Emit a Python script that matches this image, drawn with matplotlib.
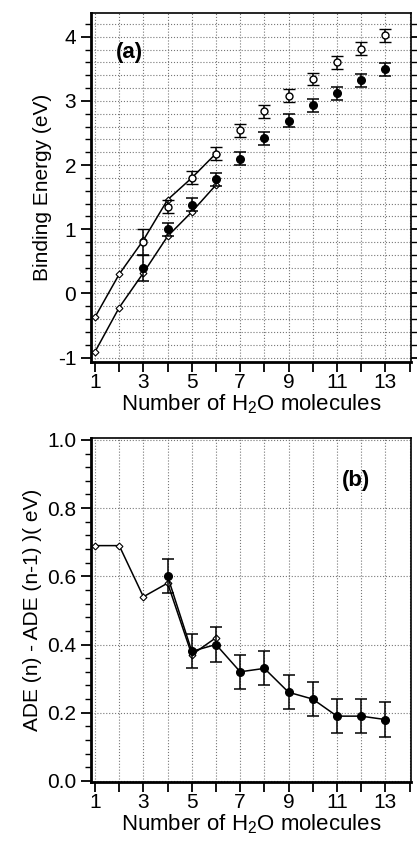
import matplotlib
matplotlib.use("Agg")
import matplotlib.pyplot as plt
import numpy as np

plt.rcParams['font.family'] = ['Liberation Sans', 'DejaVu Sans']
plt.rcParams['mathtext.fontset'] = 'custom'
plt.rcParams['mathtext.rm'] = 'Liberation Sans'
plt.rcParams['axes.unicode_minus'] = False

# panel (a) data
n_theory = [1, 2, 3, 4, 5, 6]
be_upper = [-0.37, 0.30, 0.83, 1.46, 1.80, 2.18]
be_lower = [-0.91, -0.22, 0.32, 0.89, 1.27, 1.69]

n_exp = [3, 4, 5, 6, 7, 8, 9, 10, 11, 12, 13]
vde_open = [0.80, 1.35, 1.80, 2.18, 2.54, 2.84, 3.08, 3.34, 3.60, 3.81, 4.02]
vde_open_err = [0.20, 0.10, 0.10, 0.10, 0.10, 0.10, 0.10, 0.10, 0.10, 0.10, 0.10]
ade_fill = [0.40, 1.00, 1.38, 1.78, 2.10, 2.42, 2.69, 2.93, 3.12, 3.32, 3.49]
ade_fill_err = [0.20, 0.10, 0.10, 0.10, 0.10, 0.10, 0.10, 0.10, 0.10, 0.10, 0.10]

# panel (b) data
n_diff_theory = [1, 2, 3, 4, 5, 6]
diff_theory = [0.69, 0.69, 0.54, 0.58, 0.37, 0.42]
n_diff_exp = [4, 5, 6, 7, 8, 9, 10, 11, 12, 13]
diff_exp = [0.60, 0.38, 0.40, 0.32, 0.33, 0.26, 0.24, 0.19, 0.19, 0.18]
diff_exp_err = [0.05, 0.05, 0.05, 0.05, 0.05, 0.05, 0.05, 0.05, 0.05, 0.05]

xticks = [1, 3, 5, 7, 9, 11, 13]

fig = plt.figure(figsize=(4.17, 8.42), dpi=100)
ax1 = fig.add_axes([0.218, 0.570, 0.767, 0.4146])
ax2 = fig.add_axes([0.218, 0.0713, 0.767, 0.4087])


def style_axes(ax):
    ax.set_xlim(0.83, 14.05)
    ax.set_xticks(range(1, 15))
    ax.set_xticklabels([str(i) if i in xticks else "" for i in range(1, 15)])
    ax.grid(True, which='both', linestyle=':', color='#777777', linewidth=0.8)
    ax.set_axisbelow(True)
    ax.tick_params(axis='both', which='major', direction='out', length=7, width=1.3, labelsize=15)
    ax.tick_params(axis='both', which='minor', direction='out', length=4, width=1.0)
    ax.tick_params(axis='x', pad=1)
    for s in ['left', 'bottom']:
        ax.spines[s].set_linewidth(2.0)
    for s in ['top', 'right']:
        ax.spines[s].set_linewidth(1.2)
    ax.set_xlabel(r"Number of H$_2$O molecules", fontsize=16, labelpad=0)


# (a)
ax1.plot(n_theory, be_upper, color='black', linewidth=1.1, marker='D', markersize=3.5,
         markerfacecolor='white', markeredgecolor='black', markeredgewidth=0.8)
ax1.plot(n_theory, be_lower, color='black', linewidth=1.1, marker='D', markersize=3.5,
         markerfacecolor='white', markeredgecolor='black', markeredgewidth=0.8)
ax1.errorbar(n_exp, vde_open, yerr=vde_open_err, fmt='o', color='black', markersize=5,
             markerfacecolor='white', markeredgewidth=1.0, capsize=4, elinewidth=1.1, capthick=1.1)
ax1.errorbar(n_exp, ade_fill, yerr=ade_fill_err, fmt='o', color='black', markersize=5.5,
             capsize=4, elinewidth=1.1, capthick=1.1)
ax1.set_ylim(-1.07, 4.37)
ax1.set_yticks([-1, 0, 1, 2, 3, 4])
ax1.set_yticks(np.arange(-1, 4.3, 0.2), minor=True)
style_axes(ax1)
ax1.tick_params(axis='y', which='both', right=True)
ax1.set_ylabel("Binding Energy (eV)", fontsize=15, labelpad=4)
ax1.text(1.85, 3.76, "(a)", fontsize=16, fontweight='bold', va='center', ha='left')

# (b)
ax2.plot(n_diff_theory, diff_theory, color='black', linewidth=1.1, marker='D', markersize=3.5,
         markerfacecolor='white', markeredgecolor='black', markeredgewidth=0.8)
ax2.errorbar(n_diff_exp, diff_exp, yerr=diff_exp_err, fmt='-o', color='black', markersize=5.5,
             linewidth=1.1, capsize=4, elinewidth=1.1, capthick=1.1)
ax2.set_ylim(-0.003, 1.006)
ax2.set_yticks([0.0, 0.2, 0.4, 0.6, 0.8, 1.0])
ax2.set_yticklabels(["0.0", "0.2", "0.4", "0.6", "0.8", "1.0"])
ax2.set_yticks(np.arange(0, 1.001, 0.04), minor=True)
style_axes(ax2)
ax2.grid(False, which='minor', axis='y')
ax2.set_ylabel("ADE (n) - ADE (n-1) )( eV)", fontsize=15, labelpad=4)
ax2.text(11.2, 0.88, "(b)", fontsize=16, fontweight='bold', va='center', ha='left')

plt.savefig("out.png", dpi=100)
